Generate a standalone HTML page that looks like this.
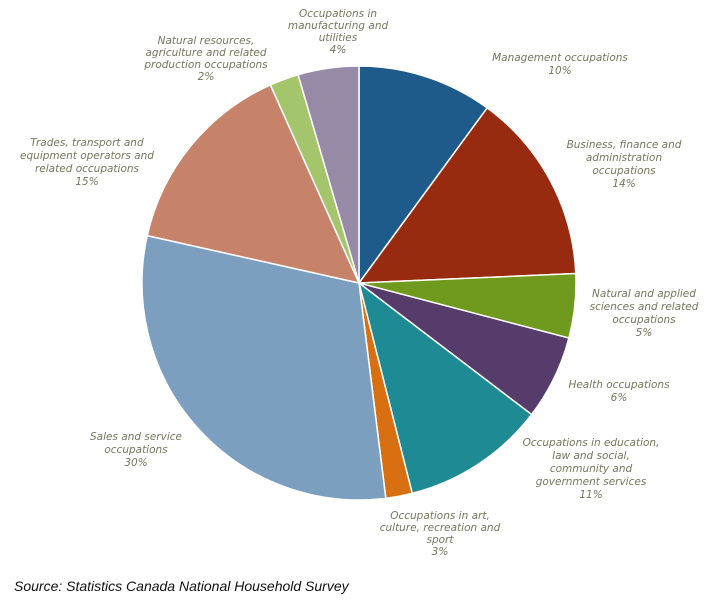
<!DOCTYPE html>
<html><head><meta charset="utf-8"><style>
body{margin:0;background:#fff;width:711px;height:598px;overflow:hidden}
svg text{font-family:"DejaVu Sans","Liberation Sans",sans-serif;font-style:italic;font-size:10.5px;fill:#76775f}
</style></head><body>
<svg id="s" width="711" height="598" viewBox="0 0 711 598">
<g id="p"></g>
<text text-anchor="middle">
<tspan x="338" y="17">Occupations in</tspan><tspan x="338" y="29">manufacturing and</tspan><tspan x="338" y="41">utilities</tspan><tspan x="338" y="53">4%</tspan></text>
<text text-anchor="middle"><tspan x="206" y="44">Natural resources,</tspan><tspan x="206" y="56">agriculture and related</tspan><tspan x="206" y="68">production occupations</tspan><tspan x="206" y="80">2%</tspan></text>
<text text-anchor="middle"><tspan x="560" y="61">Management occupations</tspan><tspan x="560" y="74">10%</tspan></text>
<text text-anchor="middle"><tspan x="624" y="148">Business, finance and</tspan><tspan x="624" y="161">administration</tspan><tspan x="624" y="174">occupations</tspan><tspan x="624" y="187">14%</tspan></text>
<text text-anchor="middle"><tspan x="644" y="297">Natural and applied</tspan><tspan x="644" y="310">sciences and related</tspan><tspan x="644" y="323">occupations</tspan><tspan x="644" y="336">5%</tspan></text>
<text text-anchor="middle"><tspan x="619" y="388">Health occupations</tspan><tspan x="619" y="401">6%</tspan></text>
<text text-anchor="middle"><tspan x="591" y="446">Occupations in education,</tspan><tspan x="591" y="459">law and social,</tspan><tspan x="591" y="472">community and</tspan><tspan x="591" y="485">government services</tspan><tspan x="591" y="498">11%</tspan></text>
<text text-anchor="middle"><tspan x="440" y="519">Occupations in art,</tspan><tspan x="440" y="531">culture, recreation and</tspan><tspan x="440" y="543">sport</tspan><tspan x="440" y="555">3%</tspan></text>
<text text-anchor="middle"><tspan x="136" y="440">Sales and service</tspan><tspan x="136" y="453">occupations</tspan><tspan x="136" y="466">30%</tspan></text>
<text text-anchor="middle"><tspan x="87" y="146">Trades, transport and</tspan><tspan x="87" y="159">equipment operators and</tspan><tspan x="87" y="172">related occupations</tspan><tspan x="87" y="185">15%</tspan></text>
<text x="14" y="591" style="font-family:'Liberation Sans',sans-serif;font-size:14px;fill:#111">Source: Statistics Canada National Household Survey</text>
</svg>
<script>
var cx=359,cy=283,r=217;
var d=[[0,36.2,"#1f5b8a"],[36.2,87.5,"#982a0f"],[87.5,104.7,"#6f9a1d"],[104.7,127.3,"#553c6a"],[127.3,165.8,"#1e8a94"],[165.8,172.9,"#d86f10"],[172.9,282.6,"#7c9fc0"],[282.6,335.9,"#c7836a"],[335.9,343.7,"#a5c56d"],[343.7,360,"#978aa6"]];
function pt(a){a=a*Math.PI/180;return (cx+r*Math.sin(a)).toFixed(2)+","+(cy-r*Math.cos(a)).toFixed(2);}
var h="";
d.forEach(function(s){var l=(s[1]-s[0])>180?1:0;h+='<path d="M'+cx+','+cy+' L'+pt(s[0])+' A'+r+','+r+' 0 '+l+' 1 '+pt(s[1])+' Z" fill="'+s[2]+'" stroke="#fff" stroke-width="1.5"/>';});
document.getElementById("p").innerHTML=h;
</script>
</body></html>
